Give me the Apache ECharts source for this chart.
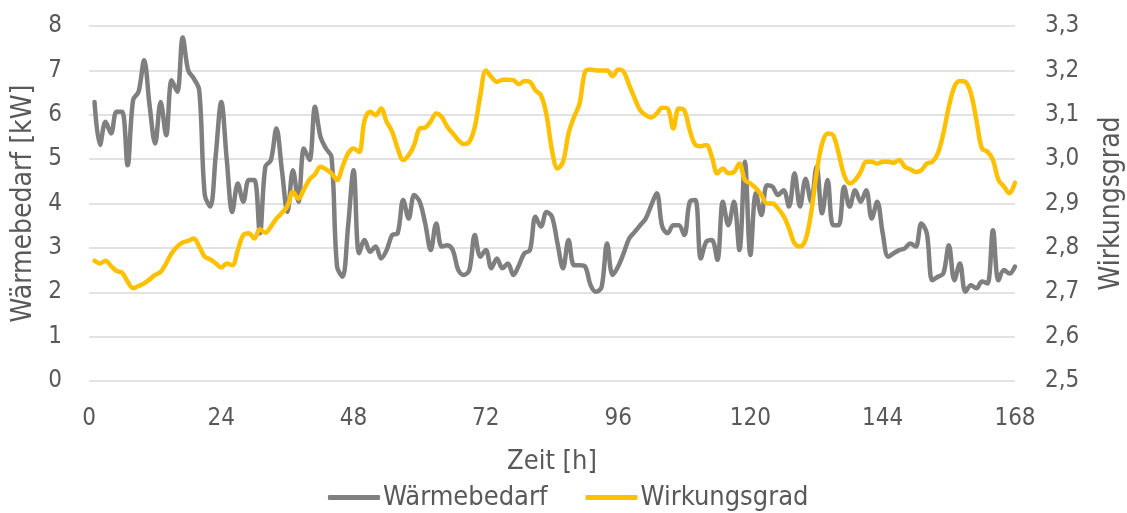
<!DOCTYPE html>
<html>
<head>
<meta charset="utf-8">
<script src="https://cdn.jsdelivr.net/npm/echarts@6/dist/echarts.min.js"></script>
<style>
html,body{margin:0;padding:0;background:#fff;}
#chart{width:1127px;height:513px;}
</style>
</head>
<body>
<div id="chart"></div>
<script>
var hours = [1,2,3,4,5,6,7,8,9,10,11,12,13,14,15,16,17,18,19,20,21,22,23,24,
25,26,27,28,29,30,31,32,33,34,35,36,37,38,39,40,41,42,43,44,45,46,47,48,
49,50,51,52,53,54,55,56,57,58,59,60,61,62,63,64,65,66,67,68,69,70,71,72,
73,74,75,76,77,78,79,80,81,82,83,84,85,86,87,88,89,90,91,92,93,94,95,96,
97,98,99,100,101,102,103,104,105,106,107,108,109,110,111,112,113,114,115,116,117,118,119,120,
121,122,123,124,125,126,127,128,129,130,131,132,133,134,135,136,137,138,139,140,141,142,143,144,
145,146,147,148,149,150,151,152,153,154,155,156,157,158,159,160,161,162,163,164,165,166,167,168];

var waermebedarf = [6.29,5.32,5.84,5.58,6.07,6.07,4.86,6.33,6.52,7.23,6.2,5.35,6.29,5.54,6.78,6.52,7.74,7.0,6.82,6.55,4.2,3.93,5.1,6.29,
4.98,3.81,4.45,4.04,4.53,4.53,3.33,4.83,4.98,5.69,4.75,3.81,4.75,4.04,5.24,4.98,6.18,5.50,5.24,5.05,2.58,2.35,3.48,4.75,
2.88,3.18,2.91,3.03,2.76,2.95,3.29,3.33,4.08,3.66,4.19,4.04,3.55,2.95,3.55,3.03,3.06,2.95,2.5,2.39,2.5,3.29,2.8,2.95,
2.54,2.76,2.54,2.65,2.39,2.61,2.88,2.95,3.7,3.48,3.81,3.7,3.1,2.54,3.18,2.61,2.61,2.58,2.16,2.01,2.12,3.10,2.39,2.58,
2.88,3.21,3.36,3.51,3.66,3.96,4.23,3.48,3.33,3.51,3.51,3.29,4.04,4.08,2.76,3.14,3.18,2.73,4.04,3.51,4.04,2.95,4.94,2.84,
4.23,3.74,4.41,4.38,4.19,4.30,3.93,4.68,3.93,4.56,4.04,4.83,3.78,4.53,3.51,3.51,4.38,3.93,4.30,4.04,4.30,3.66,4.04,3.33,
2.80,2.88,2.95,2.99,3.10,3.03,3.55,3.33,2.27,2.35,2.42,3.06,2.27,2.65,2.01,2.16,2.09,2.24,2.20,3.40,2.27,2.50,2.42,2.58];

var wirkungsgrad = [2.771,2.765,2.771,2.759,2.748,2.744,2.724,2.709,2.714,2.72,2.729,2.739,2.746,2.765,2.788,2.803,2.812,2.816,2.821,2.803,2.780,2.774,2.765,2.756,
2.765,2.761,2.795,2.829,2.833,2.821,2.842,2.834,2.848,2.866,2.879,2.894,2.926,2.911,2.932,2.954,2.966,2.983,2.977,2.968,2.953,2.983,3.013,3.024,
3.016,3.088,3.107,3.099,3.114,3.084,3.062,3.024,2.998,3.009,3.032,3.069,3.071,3.085,3.103,3.095,3.073,3.058,3.043,3.034,3.039,3.073,3.144,3.200,
3.185,3.174,3.179,3.179,3.178,3.169,3.176,3.174,3.155,3.144,3.10,3.020,2.979,2.994,3.058,3.095,3.125,3.197,3.202,3.200,3.200,3.200,3.187,3.202,
3.197,3.167,3.137,3.110,3.099,3.094,3.103,3.116,3.114,3.069,3.114,3.110,3.065,3.032,3.029,3.032,3.005,2.968,2.979,2.968,2.971,2.990,2.953,2.945,
2.934,2.919,2.900,2.900,2.889,2.872,2.844,2.810,2.803,2.818,2.878,2.968,3.035,3.058,3.054,3.013,2.964,2.945,2.953,2.971,2.994,2.994,2.990,2.994,
2.994,2.992,2.998,2.983,2.977,2.971,2.975,2.990,2.994,3.013,3.058,3.118,3.163,3.176,3.174,3.148,3.088,3.024,3.017,2.998,2.953,2.938,2.923,2.947];

var xTicks = [0,24,48,72,96,120,144,168];
var leftTicks = [0,1,2,3,4,5,6,7,8];
var rightTicks = ['2,5','2,6','2,7','2,8','2,9','3,0','3,1','3,2','3,3'];

var FONT = "'DejaVu Sans Condensed', 'Open Sans', sans-serif";
var TXT = '#595959';

function pairs(xs, ys){ var out=[]; for (var i=0;i<xs.length;i++) out.push([xs[i], ys[i]]); return out; }

var chart = echarts.init(document.getElementById('chart'), null, {renderer:'canvas'});
chart.setOption({
  animation:false,
  backgroundColor:'#fff',
  textStyle:{fontFamily:FONT, color:TXT},
  grid:{left:89, right:112, top:26, bottom:132, containLabel:false, outerBoundsMode:'none'},
  legend:{
    data:['Wärmebedarf','Wirkungsgrad'],
    left:323, top:479,
    icon:'roundRect', itemWidth:52, itemHeight:5, itemGap:38,
    textStyle:{fontFamily:FONT, fontSize:27, color:TXT, padding:[0,0,0,-2]}
  },
  xAxis:{
    type:'value', min:xTicks[0], max:xTicks[xTicks.length-1], interval:24,
    name:'Zeit [h]', nameLocation:'middle', nameGap:67,
    nameTextStyle:{fontFamily:FONT, fontSize:27, color:TXT},
    axisLine:{show:false}, axisTick:{show:false}, splitLine:{show:false},
    axisLabel:{fontFamily:FONT, fontSize:24, color:TXT, margin:26}
  },
  yAxis:[{
    type:'value', min:0, max:8, interval:1, position:'left',
    name:'Wärmebedarf [kW]', nameLocation:'middle', nameGap:49, nameRotate:90,
    nameTextStyle:{fontFamily:FONT, fontSize:28, color:TXT},
    axisLine:{show:false}, axisTick:{show:false},
    splitLine:{show:true, lineStyle:{color:'#d9d9d9', width:1.5}},
    axisLabel:{fontFamily:FONT, fontSize:24, color:TXT, margin:27,
      formatter:function(v){ var i=Math.round(v); return String(leftTicks[i]); }}
  },{
    type:'value', min:2.5, max:3.3, interval:0.1, position:'right',
    name:'Wirkungsgrad', nameLocation:'middle', nameGap:83, nameRotate:90,
    nameTextStyle:{fontFamily:FONT, fontSize:28, color:TXT},
    axisLine:{show:false}, axisTick:{show:false}, splitLine:{show:false},
    axisLabel:{fontFamily:FONT, fontSize:24, color:TXT, margin:30,
      formatter:function(v){ var i=Math.round((v-2.5)*10); return rightTicks[i]; }}
  }],
  series:[{
    name:'Wärmebedarf', type:'line', yAxisIndex:0, data:pairs(hours, waermebedarf),
    smooth:0.35, showSymbol:false, symbol:'none',
    lineStyle:{color:'#7f7f7f', width:4.5, cap:'round', join:'round'},
    itemStyle:{color:'#7f7f7f'}
  },{
    name:'Wirkungsgrad', type:'line', yAxisIndex:1, data:pairs(hours, wirkungsgrad),
    smooth:0.35, showSymbol:false, symbol:'none',
    lineStyle:{color:'#FFC000', width:4.5, cap:'round', join:'round'},
    itemStyle:{color:'#FFC000'}
  }]
});
</script>
</body>
</html>
